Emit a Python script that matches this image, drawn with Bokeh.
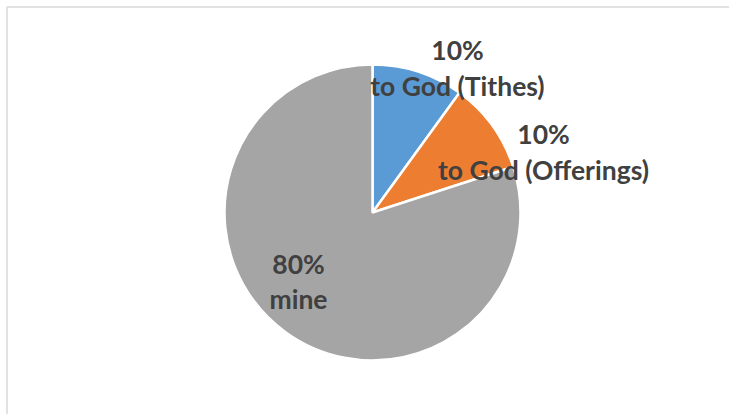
import math
from bokeh.plotting import figure
from bokeh.models import Range1d, ColumnDataSource
from bokeh.core.properties import value
from bokeh.embed import file_html
from bokeh.resources import INLINE

# ---- data ----
categories = ["to God (Tithes)", "to God (Offerings)", "mine"]
values = [10, 10, 80]
colors = ["#5B9BD5", "#ED7D31", "#A5A5A5"]

# ---- layout ----
W, H = 729, 414
cx, cy = 372, 202          # pie centre in data units (1 unit = 1 px)
R = 148
# label anchor offsets (dx, baseline dy of first line) relative to centre, px
label_offsets = [(85, 162.7), (171, 78.7), (-74, -51)]
line_gap = 35.7

total = float(sum(values))
starts, ends = [], []
acc = 0.0
for v in values:
    starts.append(math.pi / 2 - 2 * math.pi * acc / total)
    acc += v
    ends.append(math.pi / 2 - 2 * math.pi * acc / total)

src = ColumnDataSource(dict(start=starts, end=ends, color=colors, name=categories))

p = figure(width=W, height=H, output_backend="svg", toolbar_location=None,
           x_range=Range1d(0, W), y_range=Range1d(0, H), min_border=0,
           x_axis_location=None, y_axis_location=None)
p.grid.visible = False
p.outline_line_color = None
p.background_fill_color = "white"
p.border_fill_color = "white"

# chart-area frame (only top and left edges fall inside the window)
p.quad(left=[6.5], right=[W + 20], top=[H - 6.5], bottom=[-20],
       fill_color=None, line_color="#D9D9D9", line_width=1.5)

p.wedge(x=cx, y=cy, radius=R, start_angle="start", end_angle="end", direction="clock",
        fill_color="color", line_color="white", line_width=2.5, source=src)

pct = [f"{int(round(v / total * 100))}%" for v in values]
lx = [cx + dx for dx, dy in label_offsets]
ly1 = [cy + dy for dx, dy in label_offsets]
ly2 = [y - line_gap for y in ly1]

font = value("Lato")
fs = "26.5px"
p.text(x=lx, y=ly1, text=pct, text_align="center", text_baseline="alphabetic",
       text_font=font, text_font_style="bold", text_font_size=fs, text_color="#404040")
p.text(x=lx, y=ly2, text=categories, text_align="center", text_baseline="alphabetic",
       text_font=font, text_font_style="bold", text_font_size=fs, text_color="#404040")

open("out.html", "w").write(file_html(p, INLINE))
